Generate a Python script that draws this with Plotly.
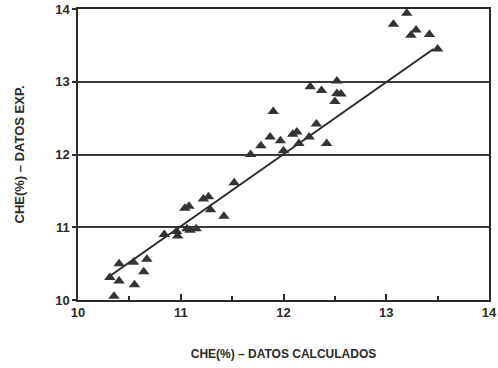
import plotly.graph_objects as go

# Data
calc = [10.35, 10.31, 10.40, 10.40, 10.55, 10.54, 10.64, 10.67, 10.84, 10.96,
        10.97, 11.06, 11.15, 11.09, 11.42, 11.04, 11.08, 11.29, 11.22, 11.27,
        11.52, 11.68, 11.78, 11.87, 11.90, 11.97, 12.00, 12.09, 12.13, 12.15,
        12.25, 12.32, 12.42, 12.26, 12.37, 12.52, 12.52, 12.50, 12.56,
        13.20, 13.07, 13.24, 13.29, 13.42, 13.50]
exp = [10.05, 10.31, 10.26, 10.50, 10.21, 10.52, 10.39, 10.56, 10.90, 10.94,
       10.88, 10.98, 10.98, 10.96, 11.15, 11.26, 11.29, 11.24, 11.39, 11.42,
       11.61, 12.00, 12.12, 12.24, 12.59, 12.19, 12.05, 12.28, 12.31, 12.15,
       12.24, 12.42, 12.15, 12.93, 12.88, 13.01, 12.84, 12.73, 12.83,
       13.94, 13.79, 13.64, 13.71, 13.65, 13.45]
fit_x = [10.30, 13.46]
fit_y = [10.32, 13.45]
ticks = [10, 11, 12, 13, 14]

ink = "#2a2a2a"
fig = go.Figure()
fig.add_trace(go.Scatter(x=fit_x, y=fit_y, mode="lines",
                         line=dict(color=ink, width=2), showlegend=False))
fig.add_trace(go.Scatter(x=calc, y=exp, mode="markers",
                         marker=dict(symbol="triangle-up", size=10, color="#333333"),
                         showlegend=False, cliponaxis=False))

font_fam = "Liberation Sans, Arial, sans-serif"
fig.update_layout(
    width=498, height=368,
    margin=dict(l=78, r=9, t=9, b=68),
    paper_bgcolor="white", plot_bgcolor="white",
    font=dict(family=font_fam, color=ink, size=12, weight="bold"),
    xaxis=dict(range=[10, 14], tickvals=ticks, ticktext=[str(t) for t in ticks],
               automargin=False, ticklabeloverflow="allow",
               showgrid=False, zeroline=False, showline=True, linecolor=ink,
               linewidth=1.5, mirror=True, ticks="inside", ticklen=6,
               tickcolor=ink, tickwidth=1.5,
               minor=dict(dtick=0.5, ticks="inside", ticklen=4, tickcolor=ink,
                          tickwidth=1.5, showgrid=False),
               tickfont=dict(size=13, weight="bold"),
               title=dict(text="CHE(%) – DATOS CALCULADOS",
                          font=dict(size=12, weight="bold"), standoff=30)),
    yaxis=dict(range=[10, 14], tickvals=ticks, ticktext=[str(t) for t in ticks],
               automargin=False, ticklabeloverflow="allow",
               showgrid=True, gridcolor="#3a3a3a", gridwidth=1.5,
               zeroline=False, showline=True, linecolor=ink, linewidth=1.5,
               mirror=True, ticks="outside", ticklen=4, tickcolor=ink,
               tickwidth=1.5, tickfont=dict(size=13, weight="bold"),
               title=dict(text="CHE(%) – DATOS EXP.",
                          font=dict(size=13, weight="bold"), standoff=28)),
)
fig.write_html("out.html", config={"displayModeBar": False},
               post_script="document.body.style.margin='0';document.body.style.overflow='hidden';")
